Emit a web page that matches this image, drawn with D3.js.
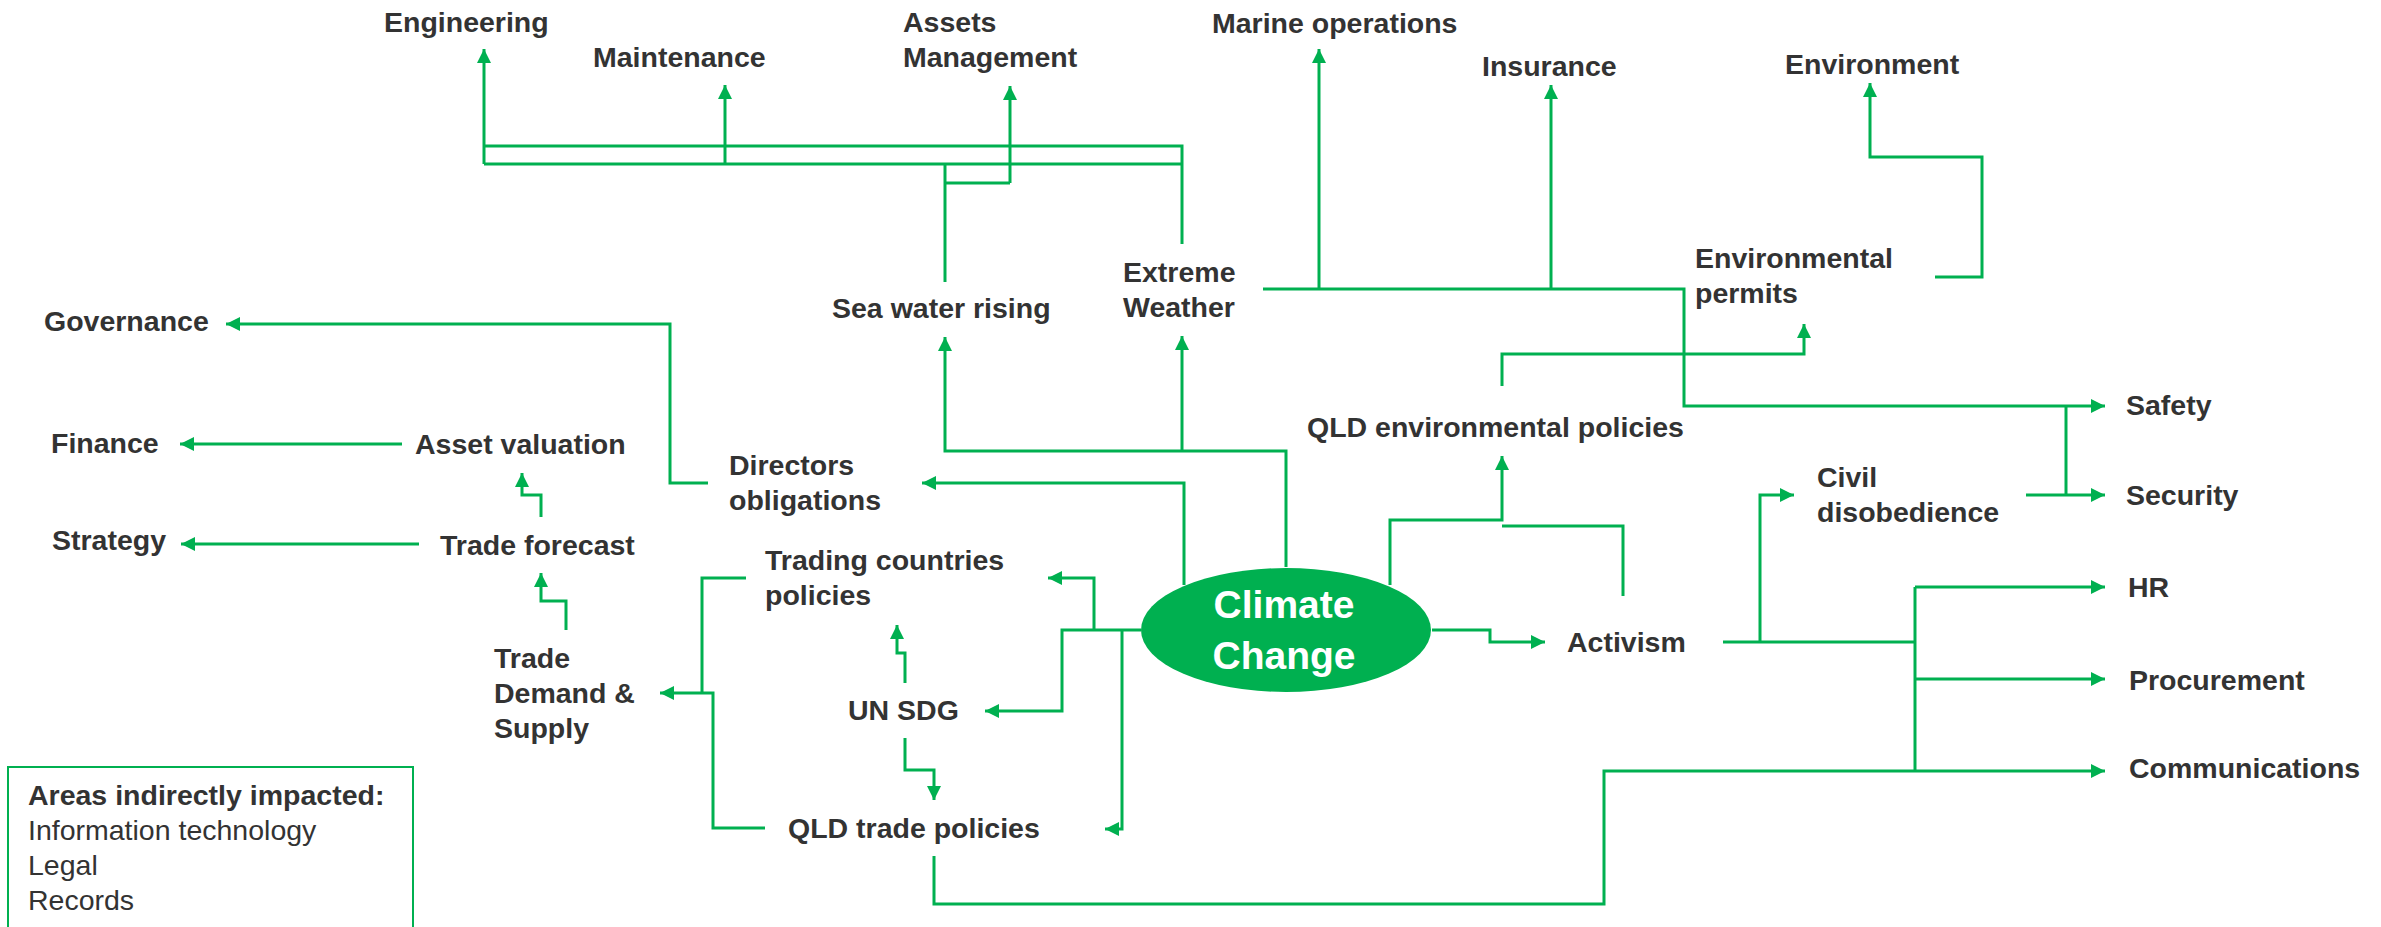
<!DOCTYPE html>
<html>
<head>
<meta charset="utf-8">
<script src="https://cdn.jsdelivr.net/npm/d3@7"></script>
<style>
  html, body { margin: 0; padding: 0; background: #fff; }
  svg { display: block; }
</style>
</head>
<body>
<div id="chart"></div>
<script>
// labels of the boxes, one entry per line of text
const nodeLabels = [
  ['Engineering'], ['Maintenance'], ['Assets', 'Management'], ['Marine operations'],
  ['Insurance'], ['Environment'], ['Environmental', 'permits'], ['Extreme', 'Weather'],
  ['Sea water rising'], ['Governance'], ['Finance'], ['Asset valuation'],
  ['Directors', 'obligations'], ['Strategy'], ['Trade forecast'], ['Trading countries', 'policies'],
  ['QLD environmental policies'], ['Civil', 'disobedience'], ['Safety'], ['Security'],
  ['HR'], ['Procurement'], ['Communications'], ['Activism'],
  ['Trade', 'Demand &', 'Supply'], ['UN SDG'], ['QLD trade policies'],
];
const centerLabel = ['Climate', 'Change'];
const legendTitle = 'Areas indirectly impacted:';
const legendItems = ['Information technology', 'Legal', 'Records'];

// layout in reference units: left x, first baseline y
const nodeAnchors = [
  [384, 32], [593, 67], [903, 32], [1212, 33],
  [1482, 76], [1785, 74], [1695, 268], [1123, 282],
  [832, 318], [44, 331], [51, 453], [415, 454],
  [729, 475], [52, 550], [440, 555], [765, 570],
  [1307, 437], [1817, 487], [2126, 415], [2126, 505],
  [2128, 597], [2129, 690], [2129, 778], [1567, 652],
  [494, 668], [848, 720], [788, 838],
];

// connector polylines [points, arrowAtEnd]
const links = [
  [[[1182, 244], [1182, 146], [484, 146]], false],
  [[[1182, 164], [484, 164]], false],
  [[[484, 164], [484, 49]], true],
  [[[725, 164], [725, 85]], true],
  [[[1010, 183], [1010, 86]], true],
  [[[945, 282], [945, 164]], false],
  [[[945, 183], [1010, 183]], false],
  [[[1263, 289], [1684, 289], [1684, 406], [2105, 406]], true],
  [[[1319, 289], [1319, 49]], true],
  [[[1551, 289], [1551, 85]], true],
  [[[1935, 277], [1982, 277], [1982, 157], [1870, 157], [1870, 83]], true],
  [[[1502, 386], [1502, 354], [1804, 354], [1804, 324]], true],
  [[[1286, 567], [1286, 451], [945, 451], [945, 337]], true],
  [[[1182, 451], [1182, 336]], true],
  [[[1184, 585], [1184, 483], [922, 483]], true],
  [[[708, 483], [670, 483], [670, 324], [226, 324]], true],
  [[[402, 444], [180, 444]], true],
  [[[419, 544], [181, 544]], true],
  [[[541, 517], [541, 495], [522, 495], [522, 473]], true],
  [[[566, 630], [566, 601], [541, 601], [541, 573]], true],
  [[[746, 578], [702, 578], [702, 693]], false],
  [[[765, 828], [713, 828], [713, 693], [660, 693]], true],
  [[[1141, 630], [1062, 630], [1062, 711], [985, 711]], true],
  [[[1094, 630], [1094, 578], [1048, 578]], true],
  [[[1122, 630], [1122, 829], [1105, 829]], true],
  [[[905, 683], [905, 653], [897, 653], [897, 625]], true],
  [[[905, 738], [905, 770], [934, 770], [934, 800]], true],
  [[[934, 856], [934, 904], [1604, 904], [1604, 771], [2105, 771]], true],
  [[[1432, 630], [1490, 630], [1490, 642], [1545, 642]], true],
  [[[1723, 642], [1915, 642]], false],
  [[[1915, 587], [1915, 771]], false],
  [[[1915, 587], [2105, 587]], true],
  [[[1915, 679], [2105, 679]], true],
  [[[1760, 642], [1760, 495], [1794, 495]], true],
  [[[2026, 495], [2105, 495]], true],
  [[[2066, 406], [2066, 495]], false],
  [[[1390, 585], [1390, 520], [1502, 520], [1502, 456]], true],
  [[[1623, 596], [1623, 526], [1502, 526]], false],
];

const W = 2381, H = 927;
const green = '#00B050', ink = '#333333';
const font = "'Liberation Sans', Arial, sans-serif";

const x = d3.scaleLinear().domain([0, 2381]).range([0, W]);
const y = d3.scaleLinear().domain([0, 927]).range([0, H]);

const svg = d3.select('#chart').append('svg').attr('width', W).attr('height', H);

svg.append('defs').append('marker')
  .attr('id', 'arrow')
  .attr('viewBox', '0 -7 14 14')
  .attr('refX', 14).attr('refY', 0)
  .attr('markerWidth', 14).attr('markerHeight', 14)
  .attr('markerUnits', 'userSpaceOnUse')
  .attr('orient', 'auto')
  .append('path').attr('d', 'M0,-7L14,0L0,7Z').attr('fill', green);

const line = d3.line().x(d => x(d[0])).y(d => y(d[1])).curve(d3.curveLinear);

svg.append('g').selectAll('path')
  .data(links)
  .join('path')
  .attr('d', d => line(d[0]))
  .attr('fill', 'none')
  .attr('stroke', green)
  .attr('stroke-width', 3)
  .attr('marker-end', d => d[1] ? 'url(#arrow)' : null);

// central ellipse
svg.append('ellipse')
  .attr('cx', x(1286)).attr('cy', y(630))
  .attr('rx', x(145) - x(0)).attr('ry', y(62) - y(0))
  .attr('fill', green);

svg.append('g').selectAll('text')
  .data(centerLabel)
  .join('text')
  .attr('x', x(1284))
  .attr('y', (d, i) => y(618 + i * 51))
  .attr('text-anchor', 'middle')
  .style('font-family', font).style('font-size', '39px').style('font-weight', 'bold')
  .attr('fill', '#fff')
  .text(d => d);

// node labels
const labels = svg.append('g').selectAll('text')
  .data(nodeLabels)
  .join('text')
  .attr('x', (d, i) => x(nodeAnchors[i][0]))
  .attr('y', (d, i) => y(nodeAnchors[i][1]))
  .style('font-family', font).style('font-size', '28.5px').style('font-weight', 'bold')
  .attr('fill', ink);

labels.selectAll('tspan')
  .data((d, i) => d.map(t => ({ t, x: nodeAnchors[i][0] })))
  .join('tspan')
  .attr('x', d => x(d.x))
  .attr('dy', (d, j) => j === 0 ? 0 : 35)
  .text(d => d.t);

// legend box
svg.append('rect')
  .attr('x', x(8)).attr('y', y(767))
  .attr('width', x(405) - x(0)).attr('height', 200)
  .attr('fill', 'none').attr('stroke', green).attr('stroke-width', 2);

svg.append('text')
  .attr('x', x(28)).attr('y', y(805))
  .style('font-family', font).style('font-size', '28.5px').style('font-weight', 'bold')
  .attr('fill', ink).text(legendTitle);

svg.append('g').selectAll('text')
  .data(legendItems)
  .join('text')
  .attr('x', x(28))
  .attr('y', (d, i) => y(840 + i * 35))
  .style('font-family', font).style('font-size', '28.5px')
  .attr('fill', ink)
  .text(d => d);
</script>
</body>
</html>
